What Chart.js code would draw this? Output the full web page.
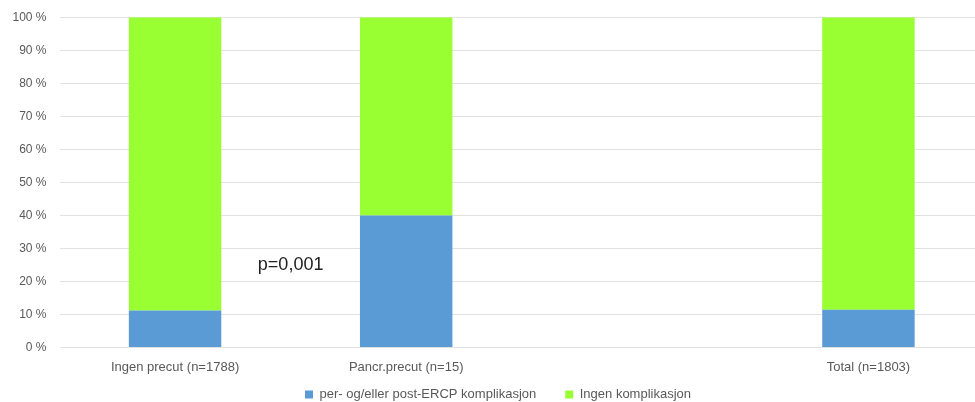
<!DOCTYPE html>
<html>
<head>
<meta charset="utf-8">
<script src="https://cdn.jsdelivr.net/npm/chart.js@4.4.1/dist/chart.umd.min.js"></script>
<style>
  html, body { margin: 0; padding: 0; overflow: hidden; background: #fff; }
  #chart { display: block; margin-top: -3px; }
</style>
</head>
<body>
<canvas id="chart" width="984" height="414" style="width:984px;height:414px"></canvas>
<script>
const categories = ["Ingen precut (n=1788)", "Pancr.precut (n=15)", "", "Total (n=1803)"];
const complication = [11.2, 40, null, 11.4];
const noComplication = [88.8, 60, null, 88.6];
const seriesNames = ["per- og/eller post-ERCP komplikasjon", "Ingen komplikasjon"];
const seriesColors = ["#5b9bd5", "#99ff33"];
const yTicks = [0, 10, 20, 30, 40, 50, 60, 70, 80, 90, 100];
const pText = "p=0,001";
const pAt = { index: 0.5, value: 25 };

const font = "'Liberation Sans', Arial, sans-serif";
const grey = "#595959";

// writes the p-value between the first two columns
const pLabel = {
  id: "pLabel",
  afterDatasetsDraw(chart) {
    const ctx = chart.ctx;
    const x = chart.scales.x.getPixelForValue(pAt.index);
    const y = chart.scales.y.getPixelForValue(pAt.value);
    ctx.save();
    ctx.font = "18px " + font;
    ctx.fillStyle = "#222";
    ctx.textAlign = "center";
    ctx.textBaseline = "middle";
    ctx.fillText(pText, x, y);
    ctx.restore();
  },
};

new Chart(document.getElementById("chart"), {
  type: "bar",
  data: {
    labels: categories,
    datasets: [
      { label: seriesNames[0], data: complication, backgroundColor: seriesColors[0] },
      { label: seriesNames[1], data: noComplication, backgroundColor: seriesColors[1] },
    ],
  },
  options: {
    responsive: false,
    animation: false,
    devicePixelRatio: 1,
    categoryPercentage: 1,
    barPercentage: 0.4,
    layout: {
      padding: { top: 14, left: 12, right: 0, bottom: 0 },
    },
    scales: {
      x: {
        stacked: true,
        grid: { display: false, drawTicks: false },
        border: { display: false },
        ticks: {
          color: grey,
          padding: -28,
          maxRotation: 0,
          mirror: true, // no clipping to the thin axis box, labels pushed down by the negative padding
          font: { family: font, size: 13 },
        },
        afterFit: function (scale) {
          scale.height = 11.5;
        },
      },
      y: {
        stacked: true,
        min: 0,
        max: 100,
        afterBuildTicks: function (scale) {
          scale.ticks = yTicks.map((v) => ({ value: v }));
        },
        grid: { color: "#e2e2e2", drawTicks: false },
        border: { display: false },
        ticks: {
          color: grey,
          padding: 13,
          font: { family: font, size: 12 },
          callback: function (v) {
            return v + " %";
          },
        },
        afterFit: function (scale) {
          scale.width = 47.5;
        },
      },
    },
    plugins: {
      legend: {
        position: "bottom",
        labels: { boxWidth: 8, boxHeight: 8, padding: 29, color: grey, font: { family: font, size: 13 } },
      },
      tooltip: { enabled: false },
    },
  },
  plugins: [pLabel],
});
</script>
</body>
</html>
